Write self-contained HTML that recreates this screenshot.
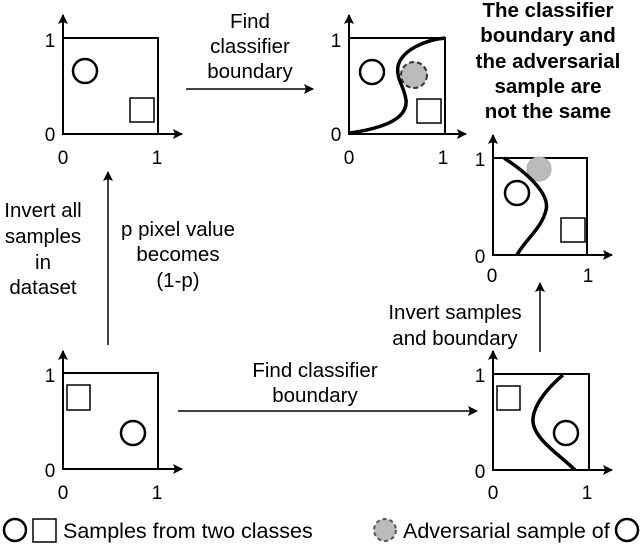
<!DOCTYPE html>
<html><head><meta charset="utf-8"><style>
html,body{margin:0;padding:0;background:#fff;}
svg{display:block;font-family:"Liberation Sans",Arial,sans-serif;}
</style></head><body>
<svg width="640" height="545" viewBox="0 0 640 545" xmlns="http://www.w3.org/2000/svg">
<defs>
<marker id="a" markerWidth="10" markerHeight="10" refX="9" refY="5" orient="auto" markerUnits="userSpaceOnUse">
<path d="M0,0 L10,5 L0,10 L2,5 z" fill="#000"/></marker>
</defs>
<g stroke="#000" stroke-width="2" fill="none">
<rect x="63" y="38" width="95" height="96"/>
<line x1="63" y1="134" x2="63" y2="15" marker-end="url(#a)"/>
<line x1="63" y1="134" x2="182" y2="134" marker-end="url(#a)"/>
<circle cx="85" cy="71" r="12" stroke-width="2.5"/>
<rect x="130" y="98" width="24" height="24" stroke-width="1.5"/>
<rect x="349" y="38" width="96" height="96"/>
<line x1="349" y1="134" x2="349" y2="15" marker-end="url(#a)"/>
<line x1="349" y1="134" x2="466" y2="134" marker-end="url(#a)"/>
<circle cx="372" cy="72" r="12" stroke-width="2.5"/>
<rect x="417" y="99" width="24" height="24" stroke-width="1.5"/>
<circle cx="414" cy="75" r="13" fill="#bbb" stroke="#333" stroke-dasharray="5,3"/>
<path d="M350,133 C385,128 408,118 406,100 C404,85 396,80 398,66 C402,50 425,40 445,38" stroke-width="3.5"/>
<rect x="493" y="158" width="94" height="97"/>
<line x1="493" y1="255" x2="493" y2="135" marker-end="url(#a)"/>
<line x1="493" y1="255" x2="612" y2="255" marker-end="url(#a)"/>
<circle cx="517" cy="193" r="12" stroke-width="2.5"/>
<rect x="561" y="218" width="24" height="24" stroke-width="1.5"/>
<circle cx="539" cy="169" r="12" fill="#bbb" stroke="#aaa" stroke-width="1"/>
<path d="M504,158 C530,175 550,195 546,210 C542,228 525,240 517,255" stroke-width="3.5"/>
<rect x="63" y="373" width="95" height="96"/>
<line x1="63" y1="469" x2="63" y2="351" marker-end="url(#a)"/>
<line x1="63" y1="469" x2="182" y2="469" marker-end="url(#a)"/>
<rect x="67" y="385" width="23" height="25" stroke-width="1.5"/>
<circle cx="133" cy="433" r="12" stroke-width="2.5"/>
<rect x="493" y="374" width="96" height="96"/>
<line x1="493" y1="470" x2="493" y2="351" marker-end="url(#a)"/>
<line x1="493" y1="470" x2="612" y2="470" marker-end="url(#a)"/>
<rect x="497" y="386" width="23" height="24" stroke-width="1.5"/>
<circle cx="566" cy="433" r="12" stroke-width="2.5"/>
<path d="M563,375 C545,390 532,408 533,422 C535,440 560,455 575,470" stroke-width="3.5"/>
<line x1="186" y1="89" x2="313" y2="89" stroke-width="1.5" marker-end="url(#a)"/>
<line x1="108" y1="345" x2="108" y2="172" stroke-width="1.5" marker-end="url(#a)"/>
<line x1="178" y1="411" x2="477" y2="411" stroke-width="1.5" marker-end="url(#a)"/>
<line x1="540" y1="352" x2="540" y2="283" stroke-width="1.5" marker-end="url(#a)"/>
<circle cx="15" cy="530" r="11" stroke-width="2.5"/>
<rect x="33" y="519" width="23" height="23" stroke-width="1.5"/>
<circle cx="385" cy="530" r="11" fill="#bbb" stroke="#555" stroke-dasharray="4,3"/>
<circle cx="627" cy="530" r="11" stroke-width="2.5"/>
</g>
<g font-size="19" fill="#000" text-anchor="middle">
<text x="50" y="47">1</text><text x="50" y="141">0</text><text x="63" y="164">0</text><text x="157" y="164">1</text>
<text x="336" y="47">1</text><text x="336" y="141">0</text><text x="349" y="164">0</text><text x="443" y="164">1</text>
<text x="480" y="166">1</text><text x="480" y="263">0</text><text x="492" y="282">0</text><text x="588" y="282">1</text>
<text x="50" y="382">1</text><text x="50" y="477">0</text><text x="63" y="499">0</text><text x="157" y="499">1</text>
<text x="480" y="382">1</text><text x="480" y="478">0</text><text x="493" y="499">0</text><text x="587" y="499">1</text>
</g>
<g font-size="20.5" fill="#000" text-anchor="middle">
<text x="250" y="28">Find</text><text x="250" y="53">classifier</text><text x="250" y="78">boundary</text>
<text x="43" y="217">Invert all</text><text x="43" y="243">samples</text><text x="43" y="269">in</text><text x="43" y="294">dataset</text>
<text x="178" y="236">p pixel value</text><text x="178" y="261">becomes</text><text x="178" y="287">(1-p)</text>
<text x="315" y="377">Find classifier</text><text x="315" y="402">boundary</text>
<text x="455" y="319">Invert samples</text><text x="455" y="345">and boundary</text>
<g font-weight="bold"><text x="548" y="17">The classifier</text><text x="548" y="42">boundary and</text><text x="548" y="68">the adversarial</text><text x="548" y="93">sample are</text><text x="548" y="118">not the same</text></g>
</g>
<g font-size="21.5" fill="#000">
<text x="63" y="538">Samples from two classes</text>
<text x="403" y="538">Adversarial sample of</text>
</g>
</svg>
</body></html>
